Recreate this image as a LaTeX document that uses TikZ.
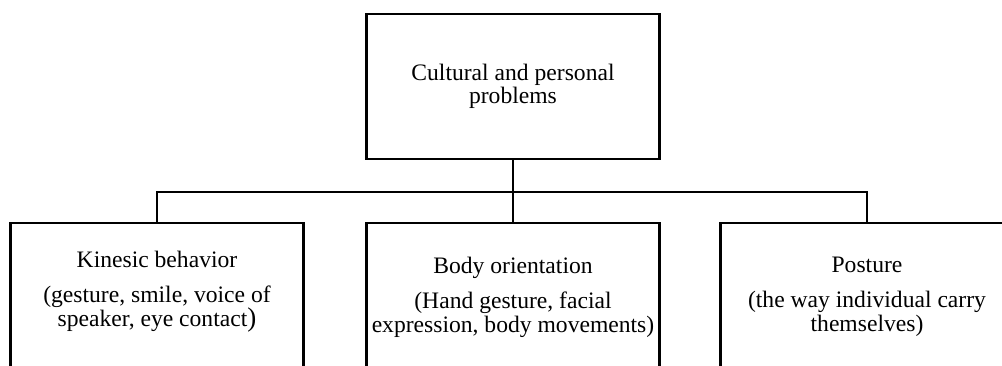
\documentclass[tikz,border=0pt]{standalone}
\usepackage{fontspec}
\setmainfont{Liberation Serif}
\newfontfamily\boxfont{Liberation Serif}
\usetikzlibrary{positioning}
\newcommand{\deeptail}{\rule[-60pt]{0pt}{0pt}}
\tikzset{
  topbox/.style={draw, line width=2.2pt, align=center, minimum width=293pt, minimum height=145pt,
    inner sep=0pt, font=\boxfont\fontsize{23.6}{22.5}\selectfont},
  leafbox/.style={draw, line width=2.2pt, align=center, minimum width=293pt,
    anchor=north, inner xsep=0pt, inner ysep=34pt, font=\boxfont\fontsize{23.6}{24}\selectfont},
  treeline/.style={draw, line width=2.2pt},
}

\begin{document}
\begin{tikzpicture}[x=1pt, y=-1pt]
  \useasboundingbox (0,0) rectangle (1002,365);
  \clip (0,0) rectangle (1002,365);
  \node[topbox] (top) at (513,86.5) {Cultural and personal\\ problems};
  \coordinate (jn) at (513,192);
  \node[leafbox, inner ysep=28pt] (kin) at (157,222) {Kinesic behavior\\[11pt] (gesture, smile, voice of\\ speaker, eye contact{\fontsize{27}{24}\selectfont)}\deeptail};
  \node[leafbox] (body) at (513,222) {Body orientation\\[11pt] (Hand gesture, facial\\ expression, body movements)\deeptail};
  \node[leafbox] (pos) at (867,222) {Posture\\[11pt] (the way individual carry\\ themselves)\deeptail};
  % tree
  \draw[treeline] (top.south) -- (jn);
  \draw[treeline] (kin.north) |- (jn) -| (pos.north);
  \draw[treeline] (jn) -- (body.north);
\end{tikzpicture}
\end{document}
